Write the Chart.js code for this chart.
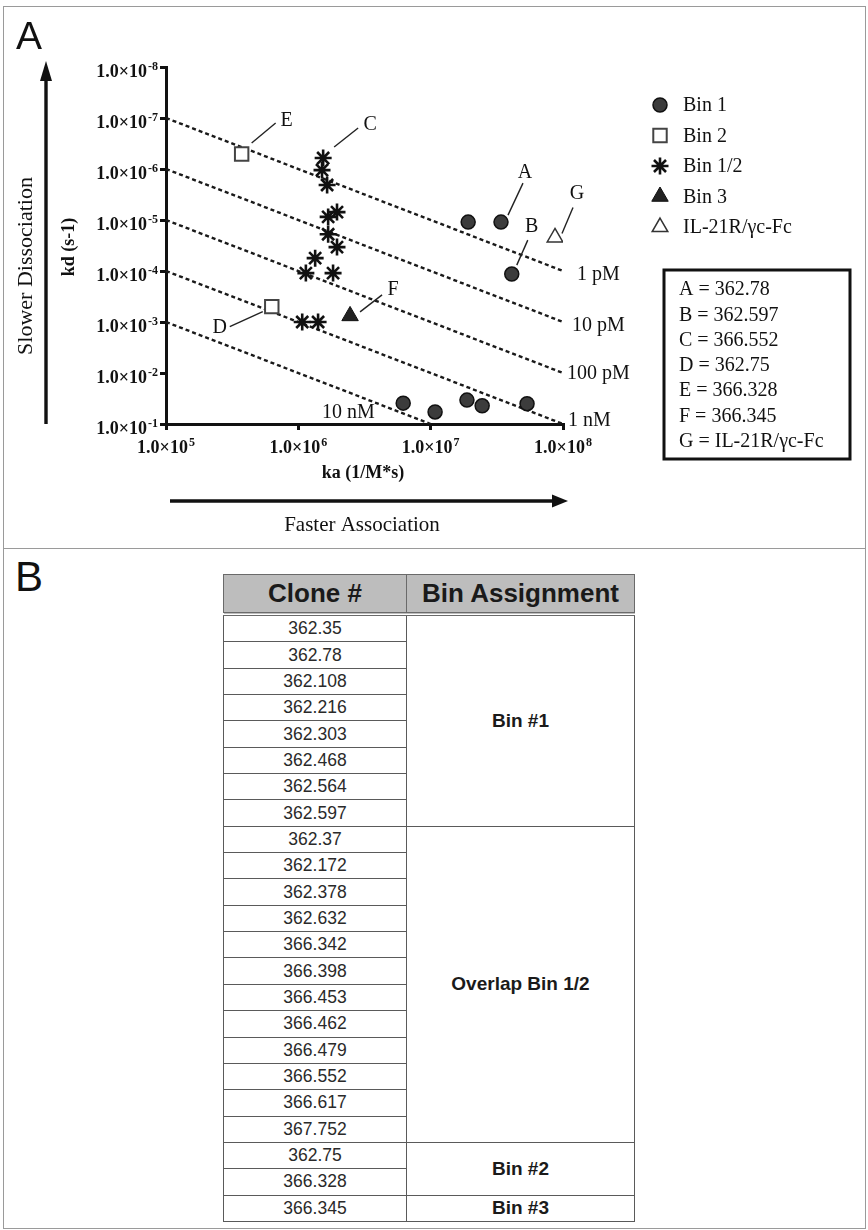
<!DOCTYPE html>
<html>
<head>
<meta charset="utf-8">
<script src="https://cdn.jsdelivr.net/npm/chart.js@4.4.1/dist/chart.umd.min.js"></script>
<style>
  html, body { margin: 0; padding: 0; background: #fff; }
  body { width: 868px; height: 1230px; position: relative; overflow: hidden; }
  #frame { position: absolute; left: 3px; top: 6px; width: 861px; height: 1221px; border: 1.5px solid #9a9a9a; }
  #divider { position: absolute; left: 3px; top: 548px; width: 863px; height: 0; border-top: 1.5px solid #9a9a9a; }
  #chart { position: absolute; left: 0; top: 0; }
  .panel { position: absolute; font-family: "Liberation Sans", Arial, sans-serif; color: #111; }
  #labA { left: 16px; top: 14px; font-size: 39px; }
  #labB { left: 15px; top: 553px; font-size: 42px; }
  #bins { position: absolute; left: 223px; top: 574px; border-collapse: collapse; font-family: "Liberation Sans", Arial, sans-serif; table-layout: fixed; }
  #bins th { height: 37px; background: #bdbdbd; font-size: 26px; font-weight: bold; color: #1a1a1a; border: 1.5px solid #6a6a6a; border-bottom: 4px double #6a6a6a; padding: 0; }
  #bins td { height: 25.35px; padding: 0; text-align: center; border: 1.5px solid #5a5a5a; }
  #bins td.clone { font-size: 17.5px; color: #2a2a2a; }
  #bins td.bin { font-size: 19px; font-weight: bold; color: #1a1a1a; }
</style>
</head>
<body>
<div id="frame"></div>
<div id="divider"></div>
<canvas id="chart" width="868" height="548"></canvas>
<div class="panel" id="labA">A</div>
<div class="panel" id="labB">B</div>
<table id="bins">
  <colgroup><col style="width:183px"><col style="width:228px"></colgroup>
  <thead><tr><th>Clone #</th><th>Bin Assignment</th></tr></thead>
  <tbody id="binsBody"></tbody>
</table>
<script>
// ---- panel A data: association (ka, 1/M*s) and dissociation (kd, 1/s) rates ----
const bin1Ka = [1.92e7, 3.4e7, 4.1e7, 6.2e6, 1.08e7, 1.88e7, 2.45e7, 5.35e7];
const bin1Kd = [1.1e-5, 1.1e-5, 1.15e-4, 3.9e-2, 5.8e-2, 3.4e-2, 4.4e-2, 4.0e-2];

const bin2Ka = [3.73e5, 6.3e5];
const bin2Kd = [5.1e-7, 5.0e-4];

const bin12Ka = [1.54e6, 1.51e6, 1.65e6, 1.68e6, 1.96e6, 1.68e6, 1.96e6, 1.34e6, 1.14e6, 1.83e6, 1.07e6, 1.41e6];
const bin12Kd = [6.1e-7, 1.05e-6, 2.06e-6, 8.7e-6, 7.0e-6, 1.9e-5, 3.4e-5, 5.6e-5, 1.1e-4, 1.1e-4, 1.0e-3, 1.0e-3];

const bin3Ka = [2.46e6];
const bin3Kd = [7.6e-4];

const ctrlKa = [8.7e7];
const ctrlKd = [2.2e-5];

// iso-affinity (KD) lines
const isoLabels = ["1 pM", "10 pM", "100 pM", "1 nM", "10 nM"];
const isoKaStart = [1e5, 1e5, 1e5, 1e5, 1e5];
const isoKdStart = [1e-7, 1e-6, 1e-5, 1e-4, 1e-3];
const isoKaEnd = [1e8, 1e8, 1e8, 1e8, 1e7];
const isoKdEnd = [1e-4, 1e-3, 1e-2, 1e-1, 1e-1];

const xTicks = [1e5, 1e6, 1e7, 1e8];
const yTicks = [1e-8, 1e-7, 1e-6, 1e-5, 1e-4, 1e-3, 1e-2, 1e-1];

const legendNames = ["Bin 1", "Bin 2", "Bin 1/2", "Bin 3", "IL-21R/\u03b3c-Fc"];
const keyLines = ["A = 362.78", "B = 362.597", "C = 366.552", "D = 362.75", "E = 366.328", "F = 366.345", "G = IL-21R/\u03b3c-Fc"];

// ---- panel B data ----
const binNames = ["Bin #1", "Overlap Bin 1/2", "Bin #2", "Bin #3"];
const bin1Clones = ["362.35", "362.78", "362.108", "362.216", "362.303", "362.468", "362.564", "362.597"];
const overlapClones = ["362.37", "362.172", "362.378", "362.632", "366.342", "366.398", "366.453", "366.462", "366.479", "366.552", "366.617", "367.752"];
const bin2Clones = ["362.75", "366.328"];
const bin3Clones = ["366.345"];

// ---- styles ----
const SERIF = "'Liberation Serif', 'Times New Roman', serif";
const INK = "#111";

const pts = (xs, ys) => xs.map((x, i) => ({ x: x, y: ys[i] }));

const markerStyles = [
  { pointStyle: "circle", pointRadius: 7, pointBackgroundColor: "#3c3c3c", pointBorderColor: "#111", pointBorderWidth: 1.5 },
  { pointStyle: "rect", pointRadius: 9.5, pointBackgroundColor: "#fff", pointBorderColor: "#444", pointBorderWidth: 2 },
  { pointStyle: "star", pointRadius: 8.5, pointBackgroundColor: "#111", pointBorderColor: "#111", pointBorderWidth: 2.6 },
  { pointStyle: "triangle", pointRadius: 9.5, pointBackgroundColor: "#222", pointBorderColor: "#111", pointBorderWidth: 1 },
  { pointStyle: "triangle", pointRadius: 9, pointBackgroundColor: "#fff", pointBorderColor: "#333", pointBorderWidth: 1.5 },
];

const pointSets = [pts(bin1Ka, bin1Kd), pts(bin2Ka, bin2Kd), pts(bin12Ka, bin12Kd), pts(bin3Ka, bin3Kd), pts(ctrlKa, ctrlKd)];

const datasets = pointSets.map((d, i) => Object.assign({ label: legendNames[i], data: d, showLine: false }, markerStyles[i]));

isoLabels.forEach((lab, i) => {
  datasets.push({
    label: lab,
    data: [{ x: isoKaStart[i], y: isoKdStart[i] }, { x: isoKaEnd[i], y: isoKdEnd[i] }],
    showLine: true,
    borderColor: "#1a1a1a",
    borderWidth: 2.4,
    borderDash: [4, 3],
    pointRadius: 0,
    fill: false,
  });
});

// label offsets (px) from each iso line's right end
const isoLabelOffsets = [[14, 4, "left"], [9, 4, "left"], [4, 1, "left"], [5, -3, "left"], [-56, -11, "right"]];

// letter callouts: dataset index, point index, leader line and text offsets (px)
const callouts = [
  { t: "A", ds: 0, i: 1, line: [7, -7, 22, -39], txt: [24, -49] },
  { t: "B", ds: 0, i: 2, line: [5, -9, 16, -34], txt: [20, -47] },
  { t: "C", ds: 2, i: 0, line: [11, -11, 35, -30], txt: [47, -33] },
  { t: "D", ds: 1, i: 1, line: [-9, 5, -42, 20], txt: [-52, 21] },
  { t: "E", ds: 1, i: 0, line: [10, -11, 34, -31], txt: [45, -33] },
  { t: "F", ds: 3, i: 0, line: [10, -4, 32, -21], txt: [43, -26] },
  { t: "G", ds: 4, i: 0, line: [7, -4, 18, -30], txt: [22, -44] },
];

function sci(ctx, exp, x, y, mode) {
  const base = "1.0\u00d710";
  const sup = String(exp);
  ctx.font = "bold 18px " + SERIF;
  const wb = ctx.measureText(base).width;
  ctx.font = "bold 12px " + SERIF;
  const ws = ctx.measureText(sup).width + 1;
  let left;
  if (mode === "right") left = x - wb - ws;
  else left = x - (wb + ws) / 2;
  ctx.textAlign = "left";
  ctx.textBaseline = "alphabetic";
  ctx.font = "bold 18px " + SERIF;
  ctx.fillText(base, left, y);
  ctx.font = "bold 12px " + SERIF;
  ctx.fillText(sup, left + wb + 1, y - 7);
}

function arrow(ctx, x1, y1, x2, y2, head, halfW) {
  const ang = Math.atan2(y2 - y1, x2 - x1);
  const bx = x2 - Math.cos(ang) * head;
  const by = y2 - Math.sin(ang) * head;
  ctx.beginPath();
  ctx.moveTo(x1, y1);
  ctx.lineTo(bx, by);
  ctx.stroke();
  ctx.beginPath();
  ctx.moveTo(x2, y2);
  ctx.lineTo(bx - Math.sin(ang) * halfW, by + Math.cos(ang) * halfW);
  ctx.lineTo(bx + Math.sin(ang) * halfW, by - Math.cos(ang) * halfW);
  ctx.closePath();
  ctx.fill();
}

const decor = {
  id: "decor",
  afterDraw(chart) {
    const ctx = chart.ctx;
    const xs = chart.scales.x;
    const ys = chart.scales.y;
    ctx.save();
    ctx.fillStyle = INK;
    ctx.strokeStyle = INK;

    // tick labels
    yTicks.forEach((v) => {
      const py = ys.getPixelForValue(v);
      sci(ctx, Math.round(Math.log10(v)), 158, py + 10, "right");
    });
    xTicks.forEach((v) => {
      const px = xs.getPixelForValue(v);
      sci(ctx, Math.round(Math.log10(v)), px, 453, "center");
    });

    // axis titles
    ctx.textAlign = "center";
    ctx.textBaseline = "middle";
    ctx.font = "bold 18px " + SERIF;
    ctx.fillText("ka (1/M*s)", 363, 473);
    ctx.save();
    ctx.translate(69, 247);
    ctx.rotate(-Math.PI / 2);
    ctx.fillText("kd (s-1)", 0, 0);
    ctx.restore();

    ctx.font = "22px " + SERIF;
    ctx.save();
    ctx.translate(26, 266);
    ctx.rotate(-Math.PI / 2);
    ctx.fillText("Slower Dissociation", 0, 0);
    ctx.restore();
    ctx.font = "21px " + SERIF;
    ctx.fillText("Faster Association", 362, 525);

    // direction arrows
    ctx.lineWidth = 3.4;
    arrow(ctx, 46, 424, 46, 61, 20, 6);
    arrow(ctx, 170, 501, 568, 501, 16, 6.5);

    // iso-affinity labels
    ctx.font = "20px " + SERIF;
    ctx.textBaseline = "middle";
    isoLabels.forEach((lab, i) => {
      const px = xs.getPixelForValue(isoKaEnd[i]);
      const py = ys.getPixelForValue(isoKdEnd[i]);
      const o = isoLabelOffsets[i];
      ctx.textAlign = o[2];
      ctx.fillText(lab, px + o[0], py + o[1]);
    });

    // callouts
    ctx.lineWidth = 1.4;
    ctx.strokeStyle = "#222";
    ctx.font = "20px " + SERIF;
    ctx.textAlign = "center";
    callouts.forEach((c) => {
      const el = chart.getDatasetMeta(c.ds).data[c.i];
      const px = el.x, py = el.y;
      ctx.beginPath();
      ctx.moveTo(px + c.line[0], py + c.line[1]);
      ctx.lineTo(px + c.line[2], py + c.line[3]);
      ctx.stroke();
      ctx.fillText(c.t, px + c.txt[0], py + c.txt[1]);
    });

    // legend
    ctx.textAlign = "left";
    ctx.font = "20px " + SERIF;
    legendNames.forEach((name, i) => {
      const y = 105 + i * 30.5;
      const s = markerStyles[i];
      ctx.fillStyle = s.pointBackgroundColor;
      ctx.strokeStyle = s.pointBorderColor;
      ctx.lineWidth = s.pointBorderWidth;
      Chart.helpers.drawPoint(ctx, { pointStyle: s.pointStyle, radius: s.pointRadius, rotation: 0, borderWidth: s.pointBorderWidth }, 660, y);
      ctx.fillStyle = INK;
      ctx.fillText(name, 683, y + 1);
    });

    // key box
    ctx.lineWidth = 3;
    ctx.strokeStyle = INK;
    ctx.strokeRect(664, 270, 186, 189);
    ctx.font = "20px " + SERIF;
    keyLines.forEach((t, i) => {
      ctx.fillText(t, 679, 290 + i * 25.3);
    });
    ctx.restore();
  },
};

const axisCommon = {
  type: "logarithmic",
  ticks: { callback: () => "", autoSkip: false },
  grid: { drawOnChartArea: false, drawTicks: true, tickLength: 6, lineWidth: 3, color: INK },
  border: { display: true, width: 3, color: INK },
};

new Chart(document.getElementById("chart"), {
  type: "scatter",
  data: { datasets: datasets },
  options: {
    responsive: false,
    animation: false,
    layout: { padding: { left: 106, right: 305, top: 67, bottom: 99 } },
    plugins: { legend: { display: false }, tooltip: { enabled: false } },
    scales: {
      x: Object.assign({}, axisCommon, {
        min: 1e5,
        max: 1e8,
        afterBuildTicks: (s) => { s.ticks = xTicks.map((v) => ({ value: v })); },
        afterFit: (s) => { s.height = 25; },
      }),
      y: Object.assign({}, axisCommon, {
        min: 1e-8,
        max: 1e-1,
        reverse: true,
        afterBuildTicks: (s) => { s.ticks = yTicks.map((v) => ({ value: v })); },
        afterFit: (s) => { s.width = 60; },
      }),
    },
  },
  plugins: [decor],
});

// ---- panel B table ----
const groups = [bin1Clones, overlapClones, bin2Clones, bin3Clones];
const body = document.getElementById("binsBody");
groups.forEach((clones, g) => {
  clones.forEach((c, i) => {
    const tr = document.createElement("tr");
    const td = document.createElement("td");
    td.className = "clone";
    td.textContent = c;
    tr.appendChild(td);
    if (i === 0) {
      const tb = document.createElement("td");
      tb.className = "bin";
      tb.rowSpan = clones.length;
      tb.textContent = binNames[g];
      tr.appendChild(tb);
    }
    body.appendChild(tr);
  });
});
</script>
</body>
</html>
